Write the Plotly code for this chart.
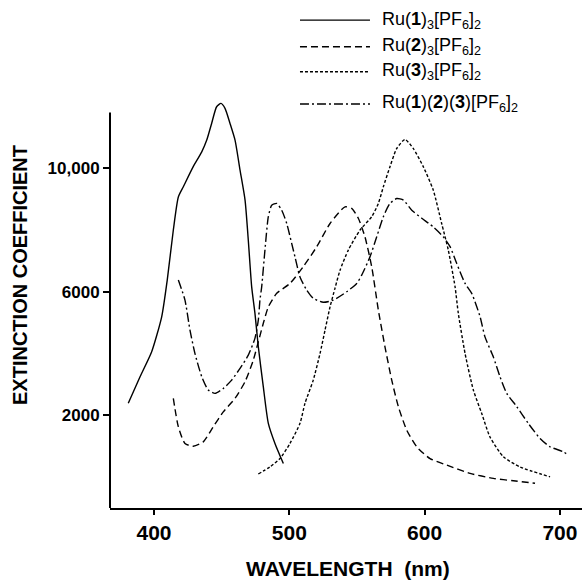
import plotly.graph_objects as go

# ---- data ----
ru1_x = [381.0, 389.7, 398.3, 405.7, 409.8, 414.3, 418.0, 421.7, 429.0, 435.3, 439.0, 442.6, 446.3,
         449.5, 452.5, 456.2, 459.9, 463.6, 467.3, 469.7, 472.2, 474.6, 477.1, 480.8, 484.5, 489.4, 495.6]
ru1_y = [2390, 3250, 4060, 5190, 6380, 8000, 9070, 9400, 10050, 10530, 10910, 11450, 11990,
         12100, 11940, 11450, 10910, 9940, 8970, 7670, 6160, 5310, 4220, 2920, 1740, 1090, 440]

ru2_x = [414.3, 418.0, 422.9, 429.0, 436.4, 443.8, 451.2, 459.9, 467.3, 473.4, 477.1, 480.8, 484.5,
         490.7, 500.5, 510.3, 520.3, 530.1, 541.2, 546.1, 551.0, 555.9, 560.9, 565.8, 570.7, 575.7,
         580.6, 586.8, 594.2, 604.0, 616.3, 633.6, 650.8, 665.6, 681.6]
ru2_y = [2550, 1630, 1090, 1000, 1140, 1630, 2110, 2550, 3090, 3790, 4380, 4980, 5510,
         5950, 6270, 6810, 7460, 8210, 8750, 8700, 8380, 7780, 6810, 5410, 4220, 3140,
         2280, 1520, 980, 600, 390, 120, -40, -120, -200]

ru3_x = [477.1, 485.7, 493.1, 500.5, 507.9, 511.6, 517.7, 522.7, 526.4, 530.1, 533.8, 537.5, 543.6,
         552.3, 560.9, 565.8, 569.5, 574.4, 579.4, 585.5, 591.6, 599.0, 606.4, 612.6, 617.5, 622.5,
         624.9, 629.9, 636.0, 642.2, 648.3, 658.2, 670.5, 692.7]
ru3_y = [100, 330, 600, 1090, 1740, 2390, 3140, 4000, 4760, 5510, 6120, 6700, 7350,
         8000, 8430, 8860, 9400, 10050, 10640, 10930, 10640, 10050, 9290, 8210, 7350, 6160,
         5300, 4000, 2820, 2060, 1300, 660, 330, 10]

ru123_x = [418.0, 422.9, 426.6, 430.3, 435.3, 440.1, 445.1, 451.2, 457.4, 463.6, 469.7, 474.6, 477.1,
           478.3, 479.6, 482.0, 484.5, 487.0, 490.7, 494.4, 498.1, 501.8, 504.2, 507.9, 512.9, 517.7,
           525.1, 532.5, 542.4, 549.8, 553.5, 559.6, 564.6, 569.5, 574.4, 579.4, 584.3, 590.5, 597.9,
           606.4, 613.8, 618.8, 623.7, 629.9, 634.8, 641.0, 644.6, 650.8, 655.7, 660.7, 668.1, 676.6,
           685.3, 692.7, 702.5, 706.2]
ru123_y = [6380, 5730, 4760, 4000, 3250, 2820, 2710, 2870, 3140, 3520, 3950, 4490, 5080,
           5730, 6160, 7350, 8430, 8800, 8860, 8640, 8210, 7560, 7130, 6480, 6050, 5790,
           5660, 5730, 6000, 6270, 6540, 7130, 7780, 8430, 8860, 9020, 8970, 8640, 8380,
           8100, 7780, 7460, 6920, 6270, 5950, 5190, 4540, 3890, 3250, 2710, 2280, 1740,
           1250, 980, 820, 710]

series_names = ["Ru(<b>1</b>)<sub>3</sub>[PF<sub>6</sub>]<sub>2</sub>",
                "Ru(<b>2</b>)<sub>3</sub>[PF<sub>6</sub>]<sub>2</sub>",
                "Ru(<b>3</b>)<sub>3</sub>[PF<sub>6</sub>]<sub>2</sub>",
                "Ru(<b>1</b>)(<b>2</b>)(<b>3</b>)[PF<sub>6</sub>]<sub>2</sub>"]
series_x = [ru1_x, ru2_x, ru3_x, ru123_x]
series_y = [ru1_y, ru2_y, ru3_y, ru123_y]

x_tick_vals = [400, 500, 600, 700]
y_tick_vals = [2000, 6000, 10000]
y_tick_text = ["2000", "6000", "10,000"]

# ---- styles ----
dashes = ["solid", "7px,4px", "3px,2px", "9px,3px,2px,3px"]
legend_rows_y = [1.170, 1.106, 1.046, 0.969]
FONT = "Liberation Sans, Arial, Helvetica, sans-serif"

fig = go.Figure()
for name, xs, ys, d in zip(series_names, series_x, series_y, dashes):
    fig.add_trace(go.Scatter(x=xs, y=ys, mode="lines", name=name,
                             line=dict(color="black", width=1.4, dash=d, shape="spline", smoothing=0.6),
                             showlegend=False, hoverinfo="skip"))

shapes = []
annotations = []
# custom legend (long line samples like the reference)
for name, d, yy in zip(series_names, dashes, legend_rows_y):
    shapes.append(dict(type="line", xref="paper", yref="paper", x0=0.4025, x1=0.5508, y0=yy, y1=yy,
                       line=dict(color="black", width=1.4, dash=d)))
    annotations.append(dict(xref="paper", yref="paper", x=0.5720, y=yy, xanchor="left", yanchor="middle",
                            text=name, showarrow=False, font=dict(family=FONT, size=18, color="black")))

# y axis line (stops below the plot top like the reference)
shapes.append(dict(type="line", xref="paper", yref="y", x0=0, x1=0, y0=-1000, y1=11800,
                   line=dict(color="black", width=2)))

annotations.append(dict(xref="paper", yref="paper", x=-0.1907, y=0.5588, textangle=-90,
                        text="<b>EXTINCTION COEFFICIENT</b>", showarrow=False,
                        xanchor="center", yanchor="middle",
                        font=dict(family=FONT, size=20, color="black")))
annotations.append(dict(xref="paper", yref="paper", x=0.504, y=-0.146,
                        text="<b>WAVELENGTH&nbsp;&nbsp;(nm)</b>", showarrow=False,
                        xanchor="center", yanchor="middle",
                        font=dict(family=FONT, size=21, color="black")))

fig.update_layout(
    width=584, height=582,
    margin=dict(l=110, r=2, t=91, b=74),
    paper_bgcolor="white", plot_bgcolor="white",
    shapes=shapes, annotations=annotations,
    xaxis=dict(range=[367.5, 716.3], tickvals=x_tick_vals, showgrid=False, zeroline=False,
               showline=True, linecolor="black", linewidth=2, ticks="outside", ticklen=5,
               tickwidth=2, tickcolor="black",
               tickfont=dict(family=FONT, size=21, color="black", weight="bold")),
    yaxis=dict(range=[-1000, 12500], tickvals=y_tick_vals, ticktext=y_tick_text, showgrid=False,
               zeroline=False, showline=False, ticks="outside", ticklen=6, tickwidth=2,
               tickcolor="black",
               tickfont=dict(family=FONT, size=17, color="black", weight="bold")),
)

fig.write_html("out.html", config={"displayModeBar": False},
               post_script="document.body.style.margin='0';document.body.style.overflow='hidden';")
